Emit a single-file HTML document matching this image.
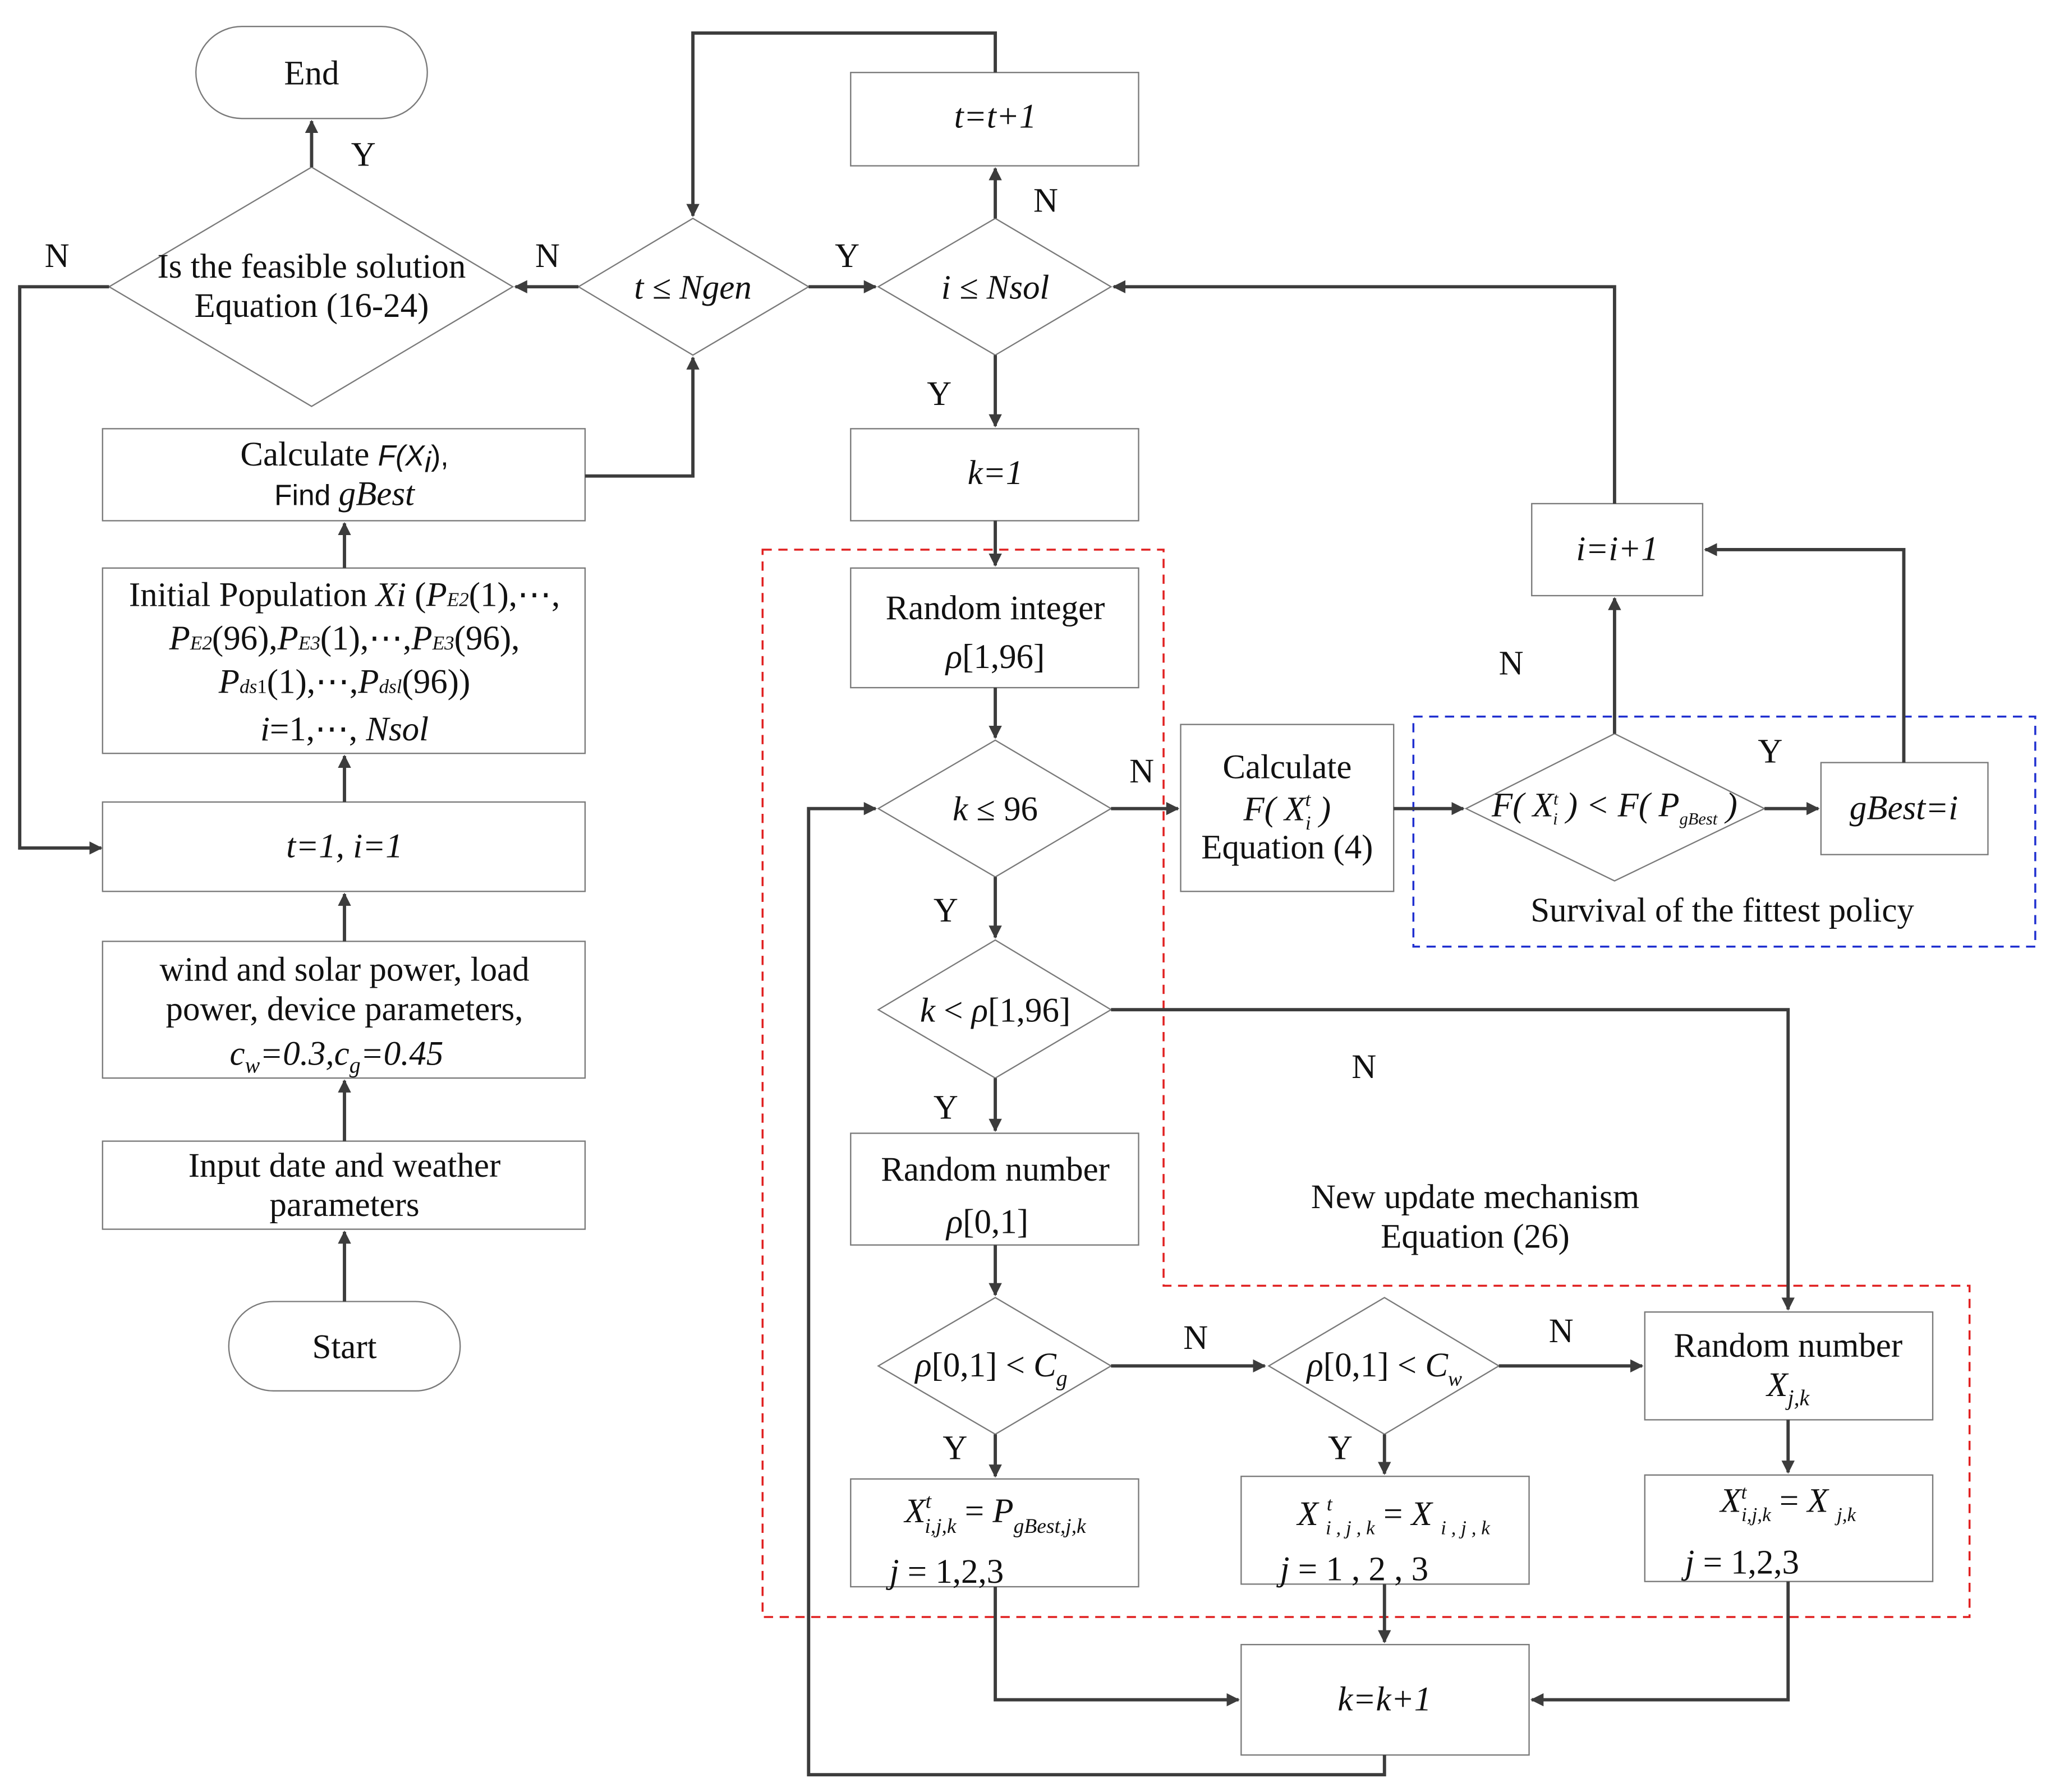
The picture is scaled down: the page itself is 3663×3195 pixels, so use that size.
<!DOCTYPE html>
<html><head><meta charset="utf-8"><style>
html,body{margin:0;padding:0;background:#fff}
svg{display:block}
text{font-family:"Liberation Serif",serif;fill:#111;font-size:26px}
.i{font-style:italic}
.s{font-family:"Liberation Sans",sans-serif;font-size:22px}
</style></head><body>
<svg width="3663" height="3195" viewBox="0 0 1563 1363" xmlns="http://www.w3.org/2000/svg">
<defs><marker id="a" markerWidth="10" markerHeight="10" refX="9" refY="5" orient="auto" markerUnits="userSpaceOnUse" viewBox="0 0 10 10"><path d="M0,0 L10,5 L0,10 z" fill="#3c3c3c"/></marker></defs>
<rect width="1563" height="1363" fill="#fff"/>
<g fill="#fff" stroke="#7a7a7a" stroke-width="1">
<rect x="149" y="20" width="176" height="70" rx="35"/>
<polygon points="83,218 237,127 390,218 237,309"/>
<rect x="78" y="326" width="367" height="70"/>
<rect x="78" y="432" width="367" height="141"/>
<rect x="78" y="610" width="367" height="68"/>
<rect x="78" y="716" width="367" height="104"/>
<rect x="78" y="868" width="367" height="67"/>
<rect x="174" y="990" width="176" height="68" rx="34"/>
<polygon points="440,218 527,166 615,218 527,270"/>
<polygon points="668,218 757,166 845,218 757,270"/>
<rect x="647" y="55" width="219" height="71"/>
<rect x="647" y="326" width="219" height="70"/>
<rect x="647" y="432" width="219" height="91"/>
<polygon points="668,615 757,563 845,615 757,667"/>
<rect x="898" y="551" width="162" height="127"/>
<polygon points="1115,615 1228,558 1342,615 1228,670"/>
<rect x="1385" y="580" width="127" height="70"/>
<rect x="1165" y="383" width="130" height="70"/>
<polygon points="668,768 757,715 845,768 757,820"/>
<rect x="647" y="862" width="219" height="85"/>
<polygon points="668,1039 757,987 845,1039 757,1091"/>
<polygon points="965,1039 1053,987 1140,1039 1053,1091"/>
<rect x="1251" y="998" width="219" height="82"/>
<rect x="647" y="1125" width="219" height="82"/>
<rect x="944" y="1123" width="219" height="82"/>
<rect x="1251" y="1122" width="219" height="81"/>
<rect x="944" y="1251" width="219" height="84"/>
</g>
<path d="M580,418 H885 V978 H1498 V1230 H580 Z" fill="none" stroke="#e02020" stroke-width="1.5" stroke-dasharray="7,5"/>
<rect x="1075" y="545" width="473" height="175" fill="none" stroke="#2030d0" stroke-width="1.5" stroke-dasharray="7,5"/>
<g fill="none" stroke="#3c3c3c" stroke-width="2.5" marker-end="url(#a)">
<path d="M237,127 V92"/>
<path d="M83,218 H15 V645 H77"/>
<path d="M445,362 H527 V272"/>
<path d="M262,432 V398"/>
<path d="M262,610 V575"/>
<path d="M262,716 V680"/>
<path d="M262,868 V822"/>
<path d="M262,990 V937"/>
<path d="M440,218 H392"/>
<path d="M615,218 H666"/>
<path d="M757,166 V128"/>
<path d="M757,55 V25 H527 V164"/>
<path d="M757,270 V324"/>
<path d="M757,396 V430"/>
<path d="M757,523 V561"/>
<path d="M845,615 H896"/>
<path d="M1060,615 H1113"/>
<path d="M1342,615 H1383"/>
<path d="M1228,558 V455"/>
<path d="M1448,580 V418 H1297"/>
<path d="M1228,383 V218 H847"/>
<path d="M757,667 V713"/>
<path d="M845,768 H1360 V996"/>
<path d="M757,820 V860"/>
<path d="M757,947 V985"/>
<path d="M845,1039 H962"/>
<path d="M1140,1039 H1249"/>
<path d="M1360,1080 V1120"/>
<path d="M757,1091 V1123"/>
<path d="M1053,1091 V1121"/>
<path d="M757,1207 V1293 H942"/>
<path d="M1053,1205 V1249"/>
<path d="M1360,1203 V1293 H1165"/>
<path d="M1053,1335 V1350 H615 V615 H666"/>
</g>
<g text-anchor="middle">
<text x="237" y="211">Is the feasible solution</text>
<text x="237" y="241">Equation (16-24)</text>
<text x="262" y="354">Calculate <tspan class="s i">F(X</tspan><tspan class="s i" font-size="14" dy="5">i</tspan><tspan class="s" dy="-5">),</tspan></text>
<text x="262" y="384"><tspan class="s">Find </tspan><tspan class="i">gBest</tspan></text>
<text x="262" y="461">Initial Population <tspan class="i">Xi</tspan> (<tspan class="i">P</tspan><tspan class="i" font-size="15">E2</tspan>(1),⋯,</text>
<text x="262" y="494"><tspan class="i">P</tspan><tspan class="i" font-size="15">E2</tspan>(96),<tspan class="i">P</tspan><tspan class="i" font-size="15">E3</tspan>(1),⋯,<tspan class="i">P</tspan><tspan class="i" font-size="15">E3</tspan>(96),</text>
<text x="262" y="527"><tspan class="i">P</tspan><tspan class="i" font-size="15">ds</tspan><tspan font-size="15">1</tspan>(1),⋯,<tspan class="i">P</tspan><tspan class="i" font-size="15">dsl</tspan>(96))</text>
<text x="262" y="563"><tspan class="i">i</tspan>=1,⋯, <tspan class="i">Nsol</tspan></text>
<text x="262" y="652" class="i" font-size="22">t=1, i=1</text>
<text x="262" y="746">wind and solar power,  load</text>
<text x="262" y="776">power, device parameters,</text>
<text x="256" y="810" class="i"><tspan>c</tspan><tspan font-size="17" dy="6">w</tspan><tspan dy="-6">=0.3,c</tspan><tspan font-size="17" dy="6">g</tspan><tspan dy="-6">=0.45</tspan></text>
<text x="262" y="895">Input date and weather</text>
<text x="262" y="925">parameters</text>
<text x="262" y="1033">Start</text>
<text x="237" y="64">End</text>
<text x="527" y="227" class="i" font-size="28">t ≤ Ngen</text>
<text x="757" y="227" class="i" font-size="28">i ≤ Nsol</text>
<text x="757" y="97" class="i" font-size="22">t=t+1</text>
<text x="757" y="368" class="i" font-size="22">k=1</text>
<text x="757" y="471">Random integer</text>
<text x="757" y="508"><tspan class="i">ρ</tspan>[1,96]</text>
<text x="757" y="624" font-size="28"><tspan class="i">k</tspan> ≤ 96</text>
<text x="979" y="592">Calculate</text>
<text x="979" y="624" class="i" font-size="26">F( X<tspan font-size="15" dy="-11">t</tspan><tspan font-size="15" dx="-4" dy="18">i</tspan><tspan dy="-7"> )</tspan></text>
<text x="979" y="653">Equation (4)</text>
<text x="1228" y="621" class="i" font-size="21">F( X<tspan font-size="13" dy="-9">t</tspan><tspan font-size="13" dx="-4" dy="15">i</tspan><tspan dy="-6"> ) &lt; F( P</tspan><tspan font-size="13" dy="6">gBest</tspan><tspan dy="-6"> )</tspan></text>
<text x="1448" y="623" class="i" font-size="22">gBest=i</text>
<text x="1310" y="701">Survival of the fittest policy</text>
<text x="1230" y="426" class="i" font-size="22">i=i+1</text>
<text x="757" y="777" font-size="23"><tspan class="i">k</tspan> &lt; <tspan class="i">ρ</tspan>[1,96]</text>
<text x="757" y="898">Random number</text>
<text x="751" y="938" font-size="28"><tspan class="i">ρ</tspan>[0,1]</text>
<text x="1122" y="919">New update mechanism</text>
<text x="1122" y="949">Equation (26)</text>
<text x="754" y="1047" font-size="28"><tspan class="i">ρ</tspan>[0,1] &lt; <tspan class="i">C</tspan><tspan class="i" font-size="17" dy="7">g</tspan></text>
<text x="1053" y="1047" font-size="26"><tspan class="i">ρ</tspan>[0,1] &lt; <tspan class="i">C</tspan><tspan class="i" font-size="16" dy="7">w</tspan></text>
<text x="1360" y="1032">Random number</text>
<text x="1360" y="1062" class="i" font-size="27">X<tspan font-size="17" dy="7">j,k</tspan></text>
<text x="757" y="1158" class="i" font-size="27">X<tspan font-size="16" dy="-11">t</tspan><tspan font-size="16" dx="-5" dy="19">i,j,k</tspan><tspan dy="-8" font-style="normal"> = </tspan>P<tspan font-size="16" dy="8">gBest,j,k</tspan></text>
<text x="720" y="1204" font-size="27"><tspan class="i">j</tspan> = 1,2,3</text>
<text x="1060" y="1160" class="i" font-size="25">X <tspan font-size="15" dy="-11">t</tspan><tspan font-size="15" dx="-5" dy="18">i , j , k</tspan><tspan dy="-7" font-style="normal">  =  </tspan>X <tspan font-size="15" dy="7">i , j , k</tspan></text>
<text x="1030" y="1202" font-size="23"><tspan class="i">j</tspan>  =  1 , 2 , 3</text>
<text x="1360" y="1150" class="i" font-size="25">X<tspan font-size="15" dy="-10">t</tspan><tspan font-size="15" dx="-4" dy="17">i,j,k</tspan><tspan dy="-7" font-style="normal"> = </tspan>X <tspan font-size="15" dy="7">j,k</tspan></text>
<text x="1325" y="1197" font-size="25"><tspan class="i">j</tspan> = 1,2,3</text>
<text x="1053" y="1301" class="i" font-size="22">k=k+1</text>
</g>
<g>
<text x="267" y="126">Y</text><text x="34" y="203">N</text><text x="407" y="203">N</text><text x="635" y="203">Y</text>
<text x="786" y="161">N</text><text x="705" y="308">Y</text><text x="859" y="595">N</text><text x="1337" y="580">Y</text>
<text x="1140" y="513">N</text><text x="710" y="701">Y</text><text x="1028" y="820">N</text><text x="710" y="851">Y</text>
<text x="900" y="1026">N</text><text x="1178" y="1021">N</text><text x="717" y="1110">Y</text><text x="1010" y="1110">Y</text>
</g>
</svg>
</body></html>
